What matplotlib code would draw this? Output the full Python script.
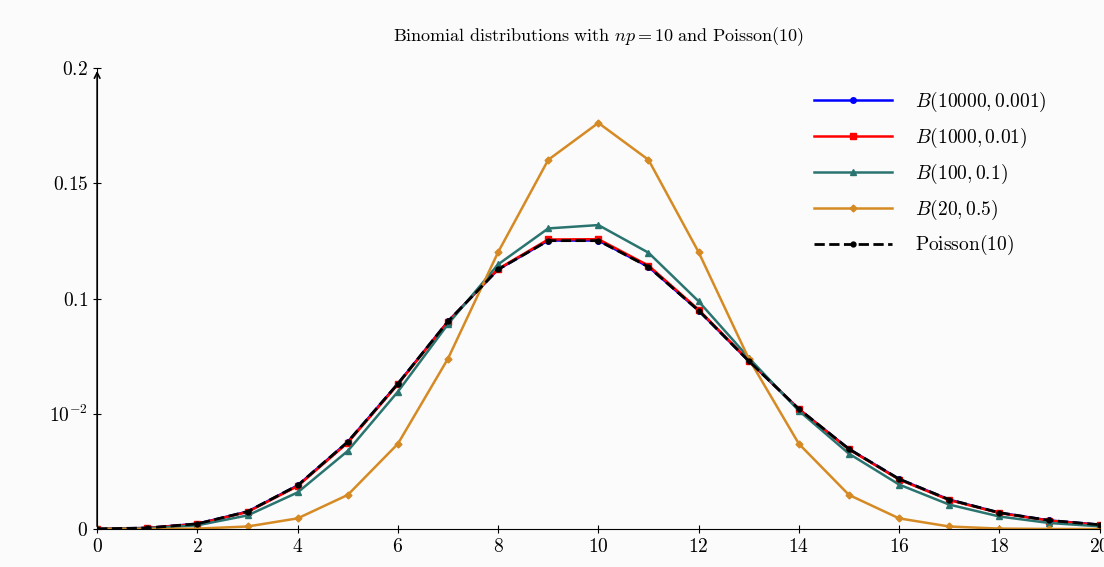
import matplotlib.pyplot as plt

plt.rcParams['mathtext.fontset'] = 'cm'
plt.rcParams['font.family'] = 'serif'
plt.rcParams['font.serif'] = ['DejaVu Serif']

k = list(range(21))
b10000 = [0.0000452, 0.000452, 0.00226, 0.00755, 0.01889, 0.03780, 0.06304, 0.09008, 0.11262, 0.12516,
          0.12517, 0.11377, 0.09479, 0.07290, 0.05206, 0.03470, 0.02167, 0.01274, 0.00707, 0.00372, 0.00186]
b1000 = [0.0000432, 0.000436, 0.00220, 0.00739, 0.01861, 0.03745, 0.06274, 0.08999, 0.11282, 0.12561,
         0.12574, 0.11431, 0.09516, 0.07305, 0.05202, 0.03454, 0.02148, 0.01256, 0.00693, 0.00362, 0.00179]
b100 = [0.0000266, 0.000295, 0.00162, 0.00589, 0.01587, 0.03387, 0.05958, 0.08890, 0.11482, 0.13042,
        0.13187, 0.11988, 0.09879, 0.07430, 0.05130, 0.03268, 0.01929, 0.01059, 0.00543, 0.00260, 0.00117]
b20 = [0.000001, 0.000019, 0.00018, 0.00109, 0.00462, 0.01479, 0.03696, 0.07393, 0.12013, 0.16018,
       0.17620, 0.16018, 0.12013, 0.07393, 0.03696, 0.01479, 0.00462, 0.00109, 0.00018, 0.000019, 0.000001]
poisson = [0.0000454, 0.000454, 0.00227, 0.00757, 0.01892, 0.03783, 0.06306, 0.09008, 0.11260, 0.12511,
           0.12511, 0.11374, 0.09478, 0.07291, 0.05208, 0.03472, 0.02170, 0.01276, 0.00709, 0.00373, 0.00187]

yticks = [0, 0.05, 0.1, 0.15, 0.2]
ylabels = ['$0$', '$10^{-2}$', '$0.1$', '$0.15$', '$0.2$']

fig = plt.figure(figsize=(11.04, 5.67), dpi=100)
fig.patch.set_facecolor('#fbfbfb')
ax = fig.add_axes([0.088, 0.067, 0.908, 0.813])
ax.set_facecolor('none')

ax.plot(k, b10000, color='blue', marker='o', ms=4, lw=1.8, label='$B(10000, 0.001)$')
ax.plot(k, b1000, color='red', marker='s', ms=4, lw=1.8, label='$B(1000, 0.01)$')
ax.plot(k, b100, color='#2a7470', marker='^', ms=5, lw=1.8, label='$B(100, 0.1)$')
ax.plot(k, b20, color='#d58a24', marker='D', ms=3.5, lw=1.8, label='$B(20, 0.5)$')
ax.plot(k, poisson, color='black', marker='o', ms=3.5, lw=2, ls='--', label=r'$\mathrm{Poisson}(10)$')

ax.set_xlim(0, 20)
ax.set_ylim(0, 0.2)
ax.set_xticks(range(0, 21, 2))
ax.set_xticklabels(['$%d$' % v for v in range(0, 21, 2)], fontsize=14)
ax.set_yticks(yticks)
ax.set_yticklabels(ylabels, fontsize=14)
ax.tick_params(direction='inout', length=6)
for s in ['top', 'right']:
    ax.spines[s].set_visible(False)
ax.annotate('', xy=(0, 1.0), xytext=(0, 0), xycoords='axes fraction',
            arrowprops=dict(arrowstyle='->', lw=1.2, color='black'))
ax.set_title(r'$\mathrm{Binomial\ distributions\ with\ }np=10\mathrm{\ and\ Poisson}(10)$',
             fontsize=13, y=1.04)
ax.legend(loc='upper right', bbox_to_anchor=(0.965, 0.99), frameon=False, fontsize=14,
          handlelength=4.0, handletextpad=1.2, markerfirst=True, labelspacing=0.6)

plt.savefig('out.png')
